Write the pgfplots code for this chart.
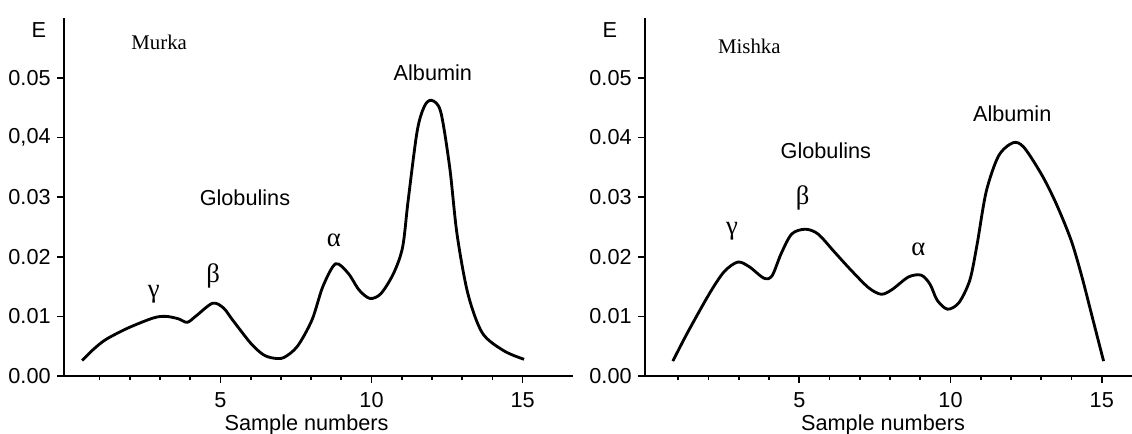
\documentclass[border=0pt]{standalone}
\usepackage{fontspec}
\setmainfont{Liberation Sans}
\newfontfamily\serif{Liberation Serif}
\usepackage{pgfplots}
\pgfplotsset{compat=1.18}
\begin{document}
\begin{tikzpicture}[x=1pt,y=1pt]
\pgfplotsset{
  myax/.style={
    scale only axis,
    axis lines=left,
    axis line style={line width=1.1pt, -},
    height=214.8pt,
    ymin=0, ymax=0.06,
    scaled y ticks=false,
    xtick={5,10,15},
    minor xtick={1,2,3,4,6,7,8,9,11,12,13,14},
    ytick={0,0.01,0.02,0.03,0.04,0.05},
    tick align=outside,
    major tick length=4pt,
    minor tick length=2.5pt,
    every tick/.style={line width=1pt, black},
    tick label style={font=\fontsize{13}{15}\selectfont},
    /pgf/number format/assume math mode=true,
    xticklabel style={yshift=-2.5pt},
    yticklabel style={xshift=-0.5pt},
    clip=false,
  }
}
\begin{axis}[myax,
  at={(38.4pt,34.2pt)}, anchor=south west,
  width=305.4pt,
  xmin=-0.18, xmax=16.67,
  yticklabels={0.00,0.01,0.02,0.03,{0,04},0.05},
]
\addplot[black, line width=1.7pt, smooth, tension=0.5] coordinates {
(0.42,0.0026) (0.78,0.0044) (1.2,0.0061) (1.92,0.0080) (2.76,0.0097)
(3.18,0.0100) (3.6,0.0096) (3.9,0.0090) (4.2,0.0101) (4.74,0.0122)
(5.1,0.0114) (5.4,0.0094) (6.0,0.0055) (6.41,0.0036) (6.75,0.0030)
(7.1,0.0031) (7.55,0.0050) (8.03,0.0094) (8.39,0.0150) (8.81,0.0188)
(9.23,0.0172) (9.59,0.0144) (9.95,0.0130) (10.31,0.0138) (10.73,0.0172)
(11.03,0.0216) (11.21,0.0293) (11.51,0.0410) (11.75,0.0452) (11.99,0.0462)
(12.29,0.0443) (12.59,0.0349) (12.83,0.0238) (13.19,0.0138) (13.67,0.0072)
(14.39,0.0042) (15.05,0.0028)
};
\node[font=\fontsize{13}{15}\selectfont] at (axis cs:-1.01,0.0579) {E};
\node[font=\serif\fontsize{12.5}{14}\selectfont] at (axis cs:2.97,0.0559) {Murka};
\node[font=\fontsize{13}{15}\selectfont] at (axis cs:12.03,0.0508) {Albumin};
\node[font=\fontsize{13}{15}\selectfont] at (axis cs:5.81,0.0299) {Globulins};
\node[font=\serif\fontsize{16}{18}\selectfont] at (axis cs:2.79,0.0137) {γ};
\node[font=\serif\fontsize{16}{18}\selectfont] at (axis cs:4.76,0.0167) {β};
\node[font=\serif\fontsize{16}{18}\selectfont] at (axis cs:8.75,0.0227) {α};
\node[font=\fontsize{13}{15}\selectfont, anchor=north, inner sep=0pt] at (axis cs:7.85,-0.0064) {Sample numbers};
\end{axis}
\begin{axis}[myax,
  at={(387pt,34.2pt)}, anchor=south west,
  width=292.2pt,
  xmin=-0.1, xmax=16.0,
  yticklabels={0.00,0.01,0.02,0.03,0.04,0.05},
]
\addplot[black, line width=1.7pt, smooth, tension=0.5] coordinates {
(0.82,0.0025) (1.32,0.0074) (2.04,0.0139) (2.52,0.0175) (2.97,0.0191)
(3.35,0.0183) (3.83,0.0164) (4.1,0.0168) (4.4,0.0205) (4.75,0.0238)
(5.20,0.0246) (5.62,0.0238) (6.16,0.0208) (6.70,0.0178) (7.29,0.0148)
(7.71,0.0137) (8.07,0.0145) (8.61,0.0166) (9.03,0.0169) (9.32,0.0154)
(9.56,0.0127) (9.90,0.0112) (10.28,0.0123) (10.64,0.0161) (10.88,0.0221)
(11.18,0.0309) (11.59,0.0369) (12.07,0.0391) (12.43,0.0383) (13.03,0.0336)
(13.51,0.0287) (13.99,0.0227) (14.34,0.0167) (14.70,0.0096) (15.06,0.0025)
};
\node[font=\fontsize{13}{15}\selectfont] at (axis cs:-1.26,0.0579) {E};
\node[font=\serif\fontsize{12.5}{14}\selectfont] at (axis cs:3.35,0.0552) {Mishka};
\node[font=\fontsize{13}{15}\selectfont] at (axis cs:12.04,0.0439) {Albumin};
\node[font=\fontsize{13}{15}\selectfont] at (axis cs:5.88,0.0377) {Globulins};
\node[font=\serif\fontsize{16}{18}\selectfont] at (axis cs:2.78,0.0243) {γ};
\node[font=\serif\fontsize{16}{18}\selectfont] at (axis cs:5.11,0.0298) {β};
\node[font=\serif\fontsize{16}{18}\selectfont] at (axis cs:8.94,0.0213) {α};
\node[font=\fontsize{13}{15}\selectfont, anchor=north, inner sep=0pt] at (axis cs:7.77,-0.0064) {Sample numbers};
\end{axis}
\pgfresetboundingbox
\path (0pt,0pt) rectangle (679.2pt,259.8pt);
\end{tikzpicture}
\end{document}
